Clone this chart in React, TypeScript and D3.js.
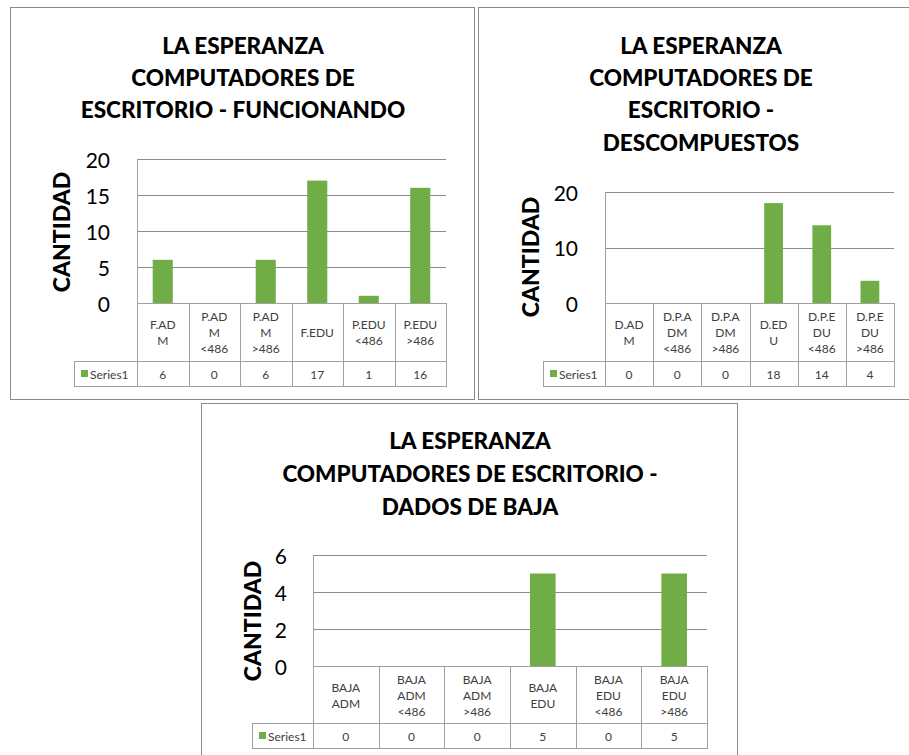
import { useEffect, useRef } from 'react';
import * as d3 from 'd3';

// chart 1 - funcionando
const categoriesFunc = [['F.AD', 'M'], ['P.AD', 'M', '<486'], ['P.AD', 'M', '>486'], ['F.EDU'], ['P.EDU', '<486'], ['P.EDU', '>486']];
const valuesFunc = [6, 0, 6, 17, 1, 16];
const ticksFunc = [0, 5, 10, 15, 20];

// chart 2 - descompuestos
const categoriesDesc = [['D.AD', 'M'], ['D.P.A', 'DM', '<486'], ['D.P.A', 'DM', '>486'], ['D.ED', 'U'], ['D.P.E', 'DU', '<486'], ['D.P.E', 'DU', '>486']];
const valuesDesc = [0, 0, 0, 18, 14, 4];
const ticksDesc = [0, 10, 20];

// chart 3 - dados de baja
const categoriesBaja = [['BAJA', 'ADM'], ['BAJA', 'ADM', '<486'], ['BAJA', 'ADM', '>486'], ['BAJA', 'EDU'], ['BAJA', 'EDU', '<486'], ['BAJA', 'EDU', '>486']];
const valuesBaja = [0, 0, 0, 5, 0, 5];
const ticksBaja = [0, 2, 4, 6];

const titleFunc = ['LA ESPERANZA', 'COMPUTADORES DE', 'ESCRITORIO - FUNCIONANDO'];
const titleDesc = ['LA ESPERANZA', 'COMPUTADORES DE', 'ESCRITORIO -', 'DESCOMPUESTOS'];
const titleBaja = ['LA ESPERANZA', 'COMPUTADORES DE ESCRITORIO -', 'DADOS DE BAJA'];

const seriesName = 'Series1';
const axisTitle = 'CANTIDAD';

const FONT = 'Lato, "Liberation Sans", sans-serif';
const GREEN = '#70ad47';
const GRID = '#8c8c8c';
const TABLE = '#a0a0a0';

interface Layout {
  frame: { x: number; y: number; w: number; h: number };
  titleX: number;
  titleY: number[];
  left: number;
  right: number;
  top: number;
  bottom: number;
  catBottom: number;
  rowBottom: number;
  legendLeft: number;
  tickRight: number;
  axisX: number;
  axisY: number;
}

const charts = [
  {
    title: titleFunc, categories: categoriesFunc, values: valuesFunc, ticks: ticksFunc,
    layout: { frame: { x: 10.5, y: 7.5, w: 464, h: 392 }, titleX: 243, titleY: [45, 77, 109], left: 137, right: 446, top: 159, bottom: 303, catBottom: 361, rowBottom: 386, legendLeft: 74, tickRight: 110, axisX: 61, axisY: 232 },
  },
  {
    title: titleDesc, categories: categoriesDesc, values: valuesDesc, ticks: ticksDesc,
    layout: { frame: { x: 478.5, y: 7.5, w: 450, h: 392 }, titleX: 701, titleY: [45, 77, 109, 142], left: 605, right: 894, top: 192, bottom: 303, catBottom: 361, rowBottom: 386, legendLeft: 543, tickRight: 578, axisX: 530, axisY: 257 },
  },
  {
    title: titleBaja, categories: categoriesBaja, values: valuesBaja, ticks: ticksBaja,
    layout: { frame: { x: 201.5, y: 403.5, w: 536, h: 370 }, titleX: 470, titleY: [440, 473, 506], left: 313, right: 707, top: 555, bottom: 666, catBottom: 723, rowBottom: 748, legendLeft: 252, tickRight: 287, axisX: 252, axisY: 621 },
  },
];

function drawChart(svg: d3.Selection<SVGSVGElement, unknown, null, undefined>, c: typeof charts[number]) {
  const L: Layout = c.layout;
  const g = svg.append('g');

  g.append('rect')
    .attr('x', L.frame.x).attr('y', L.frame.y)
    .attr('width', L.frame.w).attr('height', L.frame.h)
    .attr('fill', '#fff').attr('stroke', '#8a8a8a');

  c.title.forEach((t, i) => {
    g.append('text')
      .attr('x', L.titleX).attr('y', L.titleY[i])
      .attr('text-anchor', 'middle').attr('dominant-baseline', 'central')
      .attr('font-family', FONT).attr('font-weight', 900).attr('font-size', 22.5)
      .attr('fill', '#000')
      .text(t);
  });

  const max = d3.max(c.ticks)!;
  const y = d3.scaleLinear().domain([0, max]).range([L.bottom, L.top]);
  const x = d3.scaleBand<number>().domain(c.values.map((_, i) => i)).range([L.left, L.right]);
  const bw = x.bandwidth();

  // gridlines
  c.ticks.filter((t) => t > 0).forEach((t) => {
    g.append('line')
      .attr('x1', L.left).attr('x2', L.right)
      .attr('y1', Math.round(y(t)) + 0.5).attr('y2', Math.round(y(t)) + 0.5)
      .attr('stroke', GRID);
  });

  // tick labels
  c.ticks.forEach((t) => {
    g.append('text')
      .attr('x', L.tickRight).attr('y', y(t))
      .attr('text-anchor', 'end').attr('dominant-baseline', 'central')
      .attr('font-family', FONT).attr('font-size', 21).attr('fill', '#000')
      .text(t);
  });

  // axis title
  g.append('text')
    .attr('transform', `translate(${L.axisX},${L.axisY}) rotate(-90)`)
    .attr('text-anchor', 'middle').attr('dominant-baseline', 'central')
    .attr('font-family', FONT).attr('font-weight', 900).attr('font-size', 23)
    .attr('fill', '#000')
    .text(axisTitle);

  // bars
  c.values.forEach((v, i) => {
    if (v <= 0) return;
    g.append('rect')
      .attr('x', x(i)! + bw * 0.305).attr('width', bw * 0.39)
      .attr('y', y(v)).attr('height', y(0) - y(v))
      .attr('fill', GREEN);
  });

  // data table
  const hline = (x1: number, x2: number, yy: number) =>
    g.append('line').attr('x1', x1).attr('x2', x2).attr('y1', yy + 0.5).attr('y2', yy + 0.5).attr('stroke', TABLE);
  const vline = (xx: number, y1: number, y2: number) =>
    g.append('line').attr('x1', Math.round(xx) + 0.5).attr('x2', Math.round(xx) + 0.5).attr('y1', y1).attr('y2', y2).attr('stroke', TABLE);

  hline(L.left, L.right, L.bottom);
  hline(L.legendLeft, L.right, L.catBottom);
  hline(L.legendLeft, L.right, L.rowBottom);
  vline(L.left, L.top, L.rowBottom + 1);
  vline(L.legendLeft, L.catBottom, L.rowBottom + 1);
  c.values.forEach((_, i) => vline(x(i)! + bw, L.bottom, L.rowBottom + 1));

  const catMid = (L.bottom + L.catBottom) / 2;
  const rowMid = (L.catBottom + L.rowBottom) / 2 + 0.5;
  const lh = 16;

  c.categories.forEach((lines, i) => {
    const cx = x(i)! + bw / 2;
    lines.forEach((ln, j) => {
      g.append('text')
        .attr('x', cx).attr('y', catMid + (j - (lines.length - 1) / 2) * lh + 0.5)
        .attr('text-anchor', 'middle').attr('dominant-baseline', 'central')
        .attr('font-family', FONT).attr('font-size', 12).attr('fill', '#404040')
        .text(ln);
    });
    g.append('text')
      .attr('x', cx).attr('y', rowMid)
      .attr('text-anchor', 'middle').attr('dominant-baseline', 'central')
      .attr('font-family', FONT).attr('font-size', 12).attr('fill', '#404040')
      .text(c.values[i]);
  });

  g.append('rect')
    .attr('x', L.legendLeft + 7).attr('y', rowMid - 4)
    .attr('width', 7).attr('height', 7)
    .attr('fill', GREEN);
  g.append('text')
    .attr('x', L.legendLeft + 16).attr('y', rowMid)
    .attr('dominant-baseline', 'central')
    .attr('font-family', FONT).attr('font-size', 12).attr('fill', '#404040')
    .text(seriesName);
}

export default function App() {
  const ref = useRef<SVGSVGElement | null>(null);

  useEffect(() => {
    if (!ref.current) return;
    const svg = d3.select(ref.current);
    svg.selectAll('*').remove();
    svg.append('rect').attr('width', 909).attr('height', 755).attr('fill', '#fff');
    charts.forEach((c) => drawChart(svg, c));
  }, []);

  return (
    <div style={{ position: 'absolute', left: 0, top: 0 }}>
      <svg ref={ref} width={909} height={755} style={{ display: 'block' }}></svg>
    </div>
  );
}
